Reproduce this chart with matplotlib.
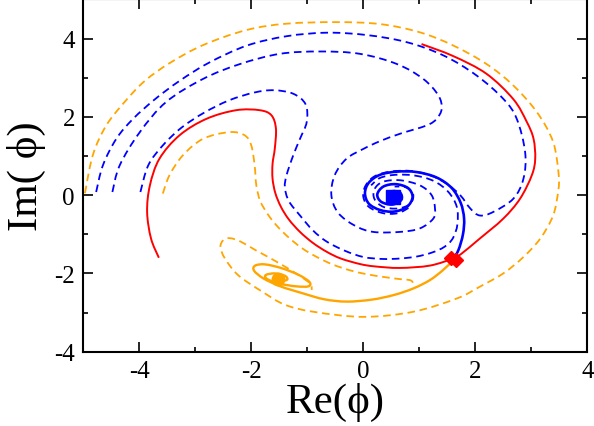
import matplotlib
matplotlib.use("Agg")
import matplotlib.pyplot as plt
from matplotlib.path import Path
from matplotlib.patches import PathPatch

plt.rcParams["font.family"] = ["Liberation Serif", "DejaVu Serif"]
plt.rcParams["axes.unicode_minus"] = False

ORANGE = "#FFA500"
BLUE = "#0000FF"
RED = "#FF0000"

# ---- trajectories in the complex phi plane (Re, Im) ----
# outer orange dashed trajectory
orange_outer_re = [-4.97, -4.83, -4.59, -4.25, -3.90, -3.45, -2.85, -2.08, -1.37, -0.48, 0.30, 1.01,
                   1.61, 2.20, 2.68, 3.10, 3.39, 3.49, 3.48, 3.39, 3.16, 2.86, 2.50, 2.08, 1.67, 0.89,
                   0.00, -0.89, -1.40, -1.80, -2.23, -2.47, -2.55, -2.50, -2.38, -2.20, -1.93, -1.55,
                   -1.18, -0.95, -0.92]
orange_outer_im = [0.05, 1.02, 1.78, 2.40, 2.92, 3.38, 3.84, 4.22, 4.38, 4.42, 4.37, 4.16,
                   3.82, 3.35, 2.80, 2.12, 1.36, 0.51, 0.10, -0.52, -1.11, -1.58, -2.00, -2.34, -2.64, -2.98,
                   -3.11, -2.98, -2.80, -2.47, -2.05, -1.62, -1.33, -1.15, -1.10, -1.18, -1.40, -1.70,
                   -2.02, -2.26, -2.42]

# inner orange dashed trajectory
orange_inner_re = [-3.58, -3.46, -3.22, -2.86, -2.39, -2.12, -2.00, -1.94, -1.91, -1.84, -1.70, -1.52,
                   -1.31, -1.08, -0.83, -0.55, -0.24, 0.06, 0.36, 0.62, 0.85, 0.89]
orange_inner_im = [0.04, 0.51, 1.02, 1.44, 1.61, 1.53, 1.27, 0.76, 0.25, -0.15, -0.50, -0.82,
                   -1.11, -1.37, -1.58, -1.77, -1.92, -2.02, -2.09, -2.14, -2.18, -2.30]

# orange solid trajectory from the saddle into the orange attractor
orange_solid_re = [1.61, 1.42, 1.19, 0.90, 0.55, 0.15, -0.30, -0.70, -1.10, -1.48, -1.78, -1.95, -1.93,
                   -1.75, -1.45, -1.15, -0.96, -0.98, -1.20, -1.50, -1.72, -1.74, -1.58, -1.40, -1.36,
                   -1.50, -1.60, -1.52]
orange_solid_im = [-1.66, -1.92, -2.17, -2.38, -2.55, -2.67, -2.72, -2.66, -2.50, -2.33, -2.13, -1.93, -1.80,
                   -1.77, -1.87, -2.04, -2.22, -2.33, -2.33, -2.26, -2.14, -2.04, -2.00, -2.06, -2.16,
                   -2.20, -2.13, -2.10]

# blue dashed trajectories
blue_outer_re = [-4.77, -4.65, -4.41, -4.11, -3.72, -3.28, -2.76, -2.08, -1.37, -0.65, 0.06, 0.77,
                 1.43, 2.02, 2.50, 2.74, 2.89, 2.86, 2.68, 2.32, 2.08, 1.91, 1.73, 1.49, 1.19, 0.83,
                 0.48, 0.20, 0.04, 0.00, 0.10, 0.35, 0.62, 0.84]
blue_outer_im = [0.08, 0.76, 1.44, 1.95, 2.45, 2.92, 3.38, 3.82, 4.06, 4.15, 4.09, 3.91,
                 3.57, 3.06, 2.46, 1.95, 1.10, 0.42, -0.09, -0.43, -0.52, -0.34, 0.00, 0.29, 0.51, 0.62,
                 0.60, 0.48, 0.24, -0.04, -0.30, -0.46, -0.46, -0.30]

blue_mid_re = [-4.48, -4.35, -3.99, -3.52, -2.86, -2.20, -1.49, -0.77, -0.06, 0.60, 1.07, 1.34,
               1.40, 1.31, 1.13, 0.66, 0.30, 0.00, -0.30, -0.51, -0.57, -0.45, -0.15, 0.18, 0.65,
               1.01, 1.25, 1.28, 1.22, 1.01, 0.66, 0.35, 0.20, 0.20, 0.36, 0.62, 0.84, 0.89, 0.76, 0.56]
blue_mid_im = [0.08, 0.76, 1.61, 2.38, 2.97, 3.35, 3.61, 3.67, 3.61, 3.35, 2.97, 2.55,
               2.21, 1.95, 1.78, 1.57, 1.38, 1.18, 0.93, 0.51, 0.00, -0.45, -0.78, -0.94, -0.94,
               -0.85, -0.60, -0.34, 0.00, 0.25, 0.38, 0.34, 0.15, -0.10, -0.30, -0.34, -0.22, 0.03, 0.20, 0.22]

blue_inner_re = [-3.98, -3.84, -3.58, -3.25, -2.85, -2.40, -1.95, -1.60, -1.25, -1.03, -1.01, -1.13, -1.25,
                 -1.37, -1.40, -1.33, -1.13, -0.90, -0.65, -0.33, 0.00, 0.33, 0.65, 0.95, 1.22, 1.45,
                 1.60, 1.68, 1.67, 1.52, 1.26, 0.92, 0.58, 0.30, 0.14]
blue_inner_im = [0.08, 0.76, 1.27, 1.72, 2.10, 2.42, 2.62, 2.68, 2.59, 2.32, 1.87, 1.44, 1.02,
                 0.51, 0.20, -0.15, -0.52, -0.90, -1.19, -1.42, -1.58, -1.63, -1.62, -1.57, -1.47, -1.32,
                 -1.10, -0.75, -0.30, 0.08, 0.36, 0.50, 0.52, 0.44, 0.25]

# blue solid trajectory from the saddle into the blue attractor
blue_solid_re = [1.61, 1.70, 1.78, 1.80, 1.74, 1.58, 1.31, 0.95, 0.60, 0.30, 0.10, 0.03, 0.10, 0.30,
                 0.55, 0.78, 0.88, 0.80, 0.58, 0.36, 0.25, 0.32, 0.52, 0.68, 0.66, 0.52, 0.44, 0.52]
blue_solid_im = [-1.62, -1.40, -1.00, -0.60, -0.20, 0.18, 0.45, 0.59, 0.60, 0.52, 0.32, 0.05, -0.22, -0.38,
                 -0.42, -0.30, -0.05, 0.18, 0.28, 0.22, 0.02, -0.17, -0.24, -0.12, 0.06, 0.10, 0.00, -0.07]

# red solid unstable-manifold branches leaving the saddle
red_left_re = [1.61, 1.19, 0.65, 0.20, -0.06, -0.40, -0.65, -0.90, -1.13, -1.33, -1.47, -1.57, -1.62,
               -1.62, -1.58, -1.56, -1.64, -1.85, -2.27, -2.80, -3.28, -3.64, -3.81, -3.86, -3.79, -3.65]
red_left_im = [-1.62, -1.80, -1.86, -1.82, -1.76, -1.62, -1.45, -1.22, -0.94, -0.62, -0.30, 0.05, 0.42,
               0.80, 1.19, 1.70, 2.04, 2.17, 2.17, 1.95, 1.53, 0.93, 0.25, -0.43, -1.11, -1.60]

red_right_re = [1.61, 1.75, 2.08, 2.50, 2.80, 3.01, 3.07, 3.04, 2.92, 2.68, 2.20, 1.61, 1.04]
red_right_im = [-1.62, -1.50, -1.11, -0.60, -0.09, 0.51, 0.93, 1.44, 1.87, 2.45, 3.10, 3.55, 3.86]

# fixed points
saddle_re = [1.56, 1.66]
saddle_im = [-1.60, -1.65]
blue_attractor = (0.53, -0.05)
orange_attractor = (-1.52, -2.13)

x_ticks = [-4, -2, 0, 2, 4]
y_ticks = [-4, -2, 0, 2, 4]
x_minor = [-3, -1, 1, 3]
y_minor = [-3, -1, 1, 3]


def smooth_path(xs, ys):
    """Catmull-Rom curve through the given vertices, as cubic Bezier segments."""
    pts = list(zip(xs, ys))
    n = len(pts)
    verts = [pts[0]]
    codes = [Path.MOVETO]
    for i in range(n - 1):
        p0 = pts[i - 1] if i > 0 else pts[i]
        p1 = pts[i]
        p2 = pts[i + 1]
        p3 = pts[i + 2] if i + 2 < n else pts[i + 1]
        c1 = (p1[0] + (p2[0] - p0[0]) / 6.0, p1[1] + (p2[1] - p0[1]) / 6.0)
        c2 = (p2[0] - (p3[0] - p1[0]) / 6.0, p2[1] - (p3[1] - p1[1]) / 6.0)
        verts += [c1, c2, p2]
        codes += [Path.CURVE4] * 3
    return Path(verts, codes)


def curve(ax, xs, ys, **kw):
    ax.add_patch(PathPatch(smooth_path(xs, ys), fill=False, capstyle="butt", **kw))


fig = plt.figure(figsize=(5.94, 4.27), dpi=100)
ax = fig.add_axes([0.1402, 0.174, 0.8485, 0.825])

dash = dict(lw=1.3, linestyle=(0, (4.2, 2.6)))
curve(ax, orange_outer_re, orange_outer_im, edgecolor=ORANGE, **dash)
curve(ax, orange_inner_re, orange_inner_im, edgecolor=ORANGE, **dash)
curve(ax, blue_outer_re, blue_outer_im, edgecolor=BLUE, **dash)
curve(ax, blue_mid_re, blue_mid_im, edgecolor=BLUE, **dash)
curve(ax, blue_inner_re, blue_inner_im, edgecolor=BLUE, **dash)

curve(ax, red_left_re, red_left_im, edgecolor=RED, lw=1.4)
curve(ax, red_right_re, red_right_im, edgecolor=RED, lw=1.4)
curve(ax, blue_solid_re, blue_solid_im, edgecolor=BLUE, lw=1.9)
curve(ax, orange_solid_re, orange_solid_im, edgecolor=ORANGE, lw=1.7)

ax.plot(*blue_attractor, marker="s", ms=10, color=BLUE, mec=BLUE)
ax.plot(*orange_attractor, marker="o", ms=9, color=ORANGE, mec=ORANGE)
ax.plot(saddle_re, saddle_im, ls="none", marker="D", ms=7, color=RED, mec=RED)

ax.set_xlim(-5, 4)
ax.set_ylim(-4, 5)
ax.set_xticks(x_ticks)
ax.set_yticks(y_ticks)
ax.set_xticks(x_minor, minor=True)
ax.set_yticks(y_minor, minor=True)
ax.tick_params(which="both", direction="in", top=True, right=True, width=1.2)
ax.tick_params(which="major", length=7, labelsize=18, pad=6)
ax.tick_params(which="minor", length=3.5)
for s in ax.spines.values():
    s.set_linewidth(1.5)

ax.set_xlabel("Re(\u03d5)", fontsize=31, labelpad=0)
ax.set_ylabel("Im( \u03d5)", fontsize=31, labelpad=6)

fig.savefig("out.png", dpi=100)
